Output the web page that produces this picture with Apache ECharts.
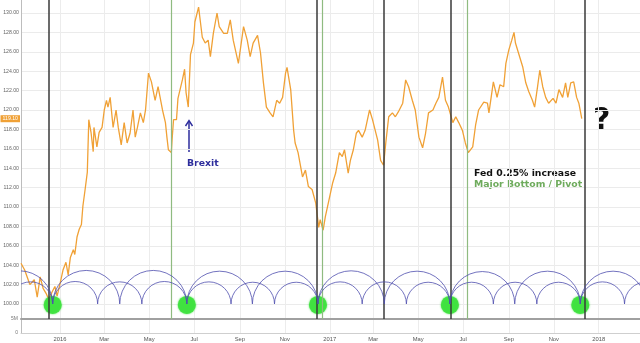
<!DOCTYPE html>
<html><head><meta charset="utf-8">
<script src="https://cdn.jsdelivr.net/npm/echarts@6/dist/echarts.min.js"></script>
<style>html,body{margin:0;padding:0;background:#fff}#c{width:640px;height:343px}</style>
</head><body><div id="c"></div>
<script>
const priceDates = ['2015-11-09','2015-11-14','2015-11-21','2015-11-27','2015-12-01','2015-12-05','2015-12-09','2015-12-13','2015-12-17','2015-12-21','2015-12-25','2015-12-28',
'2016-01-01','2016-01-05','2016-01-09','2016-01-12','2016-01-15','2016-01-19','2016-01-21','2016-01-24','2016-01-27','2016-01-30','2016-02-01','2016-02-04','2016-02-07','2016-02-09','2016-02-12','2016-02-15','2016-02-16','2016-02-20','2016-02-23','2016-02-27',
'2016-03-01','2016-03-04','2016-03-06','2016-03-09','2016-03-13','2016-03-17','2016-03-20','2016-03-24','2016-03-28','2016-04-01','2016-04-05','2016-04-09','2016-04-12','2016-04-15','2016-04-19','2016-04-23','2016-04-26','2016-04-30',
'2016-05-04','2016-05-06','2016-05-09','2016-05-13','2016-05-19','2016-05-23','2016-05-25','2016-05-27','2016-05-31','2016-06-01','2016-06-03','2016-06-07','2016-06-09','2016-06-15','2016-06-18','2016-06-20','2016-06-23','2016-06-26','2016-06-30',
'2016-07-02','2016-07-07','2016-07-12','2016-07-16','2016-07-20','2016-07-23','2016-07-27','2016-08-01','2016-08-04','2016-08-10','2016-08-15','2016-08-19','2016-08-23','2016-08-30','2016-09-06','2016-09-11','2016-09-15','2016-09-19','2016-09-25','2016-09-29',
'2016-10-03','2016-10-07','2016-10-12','2016-10-16','2016-10-21','2016-10-25','2016-10-29','2016-11-02','2016-11-04','2016-11-09','2016-11-13','2016-11-15','2016-11-19','2016-11-25','2016-11-29','2016-12-03','2016-12-08','2016-12-13','2016-12-17','2016-12-19','2016-12-23','2016-12-26','2016-12-30',
'2017-01-05','2017-01-09','2017-01-14','2017-01-18','2017-01-21','2017-01-26','2017-01-29','2017-02-02','2017-02-06','2017-02-09','2017-02-14','2017-02-18','2017-02-24','2017-02-28','2017-03-07','2017-03-11','2017-03-15','2017-03-18','2017-03-22','2017-03-27','2017-03-31',
'2017-04-04','2017-04-10','2017-04-14','2017-04-18','2017-04-23','2017-04-27','2017-05-02','2017-05-07','2017-05-11','2017-05-15','2017-05-21','2017-05-25','2017-05-29','2017-06-03','2017-06-07','2017-06-11','2017-06-17','2017-06-21','2017-06-25','2017-06-30',
'2017-07-04','2017-07-08','2017-07-14','2017-07-18','2017-07-22','2017-07-29','2017-08-03','2017-08-05','2017-08-11','2017-08-16','2017-08-20','2017-08-25','2017-08-28','2017-09-01','2017-09-05','2017-09-08','2017-09-10','2017-09-14','2017-09-20','2017-09-24','2017-09-28',
'2017-10-03','2017-10-06','2017-10-10','2017-10-13','2017-10-17','2017-10-21','2017-10-25','2017-10-31','2017-11-04','2017-11-08','2017-11-13','2017-11-17','2017-11-20','2017-11-24','2017-11-28','2017-12-02','2017-12-05','2017-12-09'];
const priceValues = [104.2,103.5,102.0,102.5,100.7,102.8,101.6,101.1,100.4,101.2,101.8,100.8,
102.1,103.5,104.3,103.0,104.8,105.6,105.1,106.9,107.7,108.2,110.1,111.8,113.6,119.0,117.7,115.7,118.2,116.2,117.7,118.2,
120.0,121.0,120.3,121.3,118.2,120.0,118.2,116.4,118.7,116.6,117.6,120.0,117.2,118.2,119.7,118.7,120.0,123.8,
122.9,123.1,121.0,122.4,120.0,118.7,117.2,115.9,115.6,116.9,119.0,119.0,121.2,123.1,124.2,121.8,120.3,125.7,126.9,
129.1,130.6,127.5,126.9,127.2,125.5,127.9,130.0,128.6,127.9,127.9,129.3,127.2,124.8,128.6,127.2,125.5,126.9,127.7,125.9,
122.8,120.3,119.7,119.3,121.0,120.7,121.3,123.8,124.4,122.1,117.9,116.6,115.6,113.1,113.8,112.1,111.8,110.4,107.9,108.7,107.6,109.0,110.4,
112.5,113.5,115.6,115.2,115.9,113.5,114.8,115.9,117.6,117.9,117.2,117.9,120.0,119.0,116.9,114.8,114.3,116.6,119.3,119.7,119.3,
119.8,120.7,123.1,122.4,121.0,120.0,117.2,116.1,117.6,119.7,120.0,120.7,121.3,123.4,121.0,120.3,118.7,119.3,118.7,117.9,
116.6,115.6,116.2,118.5,120.0,120.8,120.7,119.7,122.9,121.3,122.6,122.4,124.8,126.2,127.2,128.0,126.9,125.9,124.4,122.8,121.9,
121.0,120.3,122.4,124.1,122.4,121.3,120.7,121.2,120.7,122.1,121.3,122.8,121.3,122.8,122.9,121.3,120.7,119.1];

const fedHikeDates = ['2015-12-16','2016-12-14','2017-03-15','2017-06-14','2017-12-13'];
const majorBottomDates = ['2016-05-31','2016-12-22','2017-07-07'];
const cycleLowDates = ['2015-12-22','2016-06-21','2016-12-16','2017-06-13','2017-12-07'];
const halfCycleArcs = [['2015-09-23','2015-12-22'],['2015-12-22','2016-03-22'],['2016-03-22','2016-06-21'],['2016-06-21','2016-09-18'],['2016-09-18','2016-12-16'],
  ['2016-12-16','2017-03-16'],['2017-03-16','2017-06-13'],['2017-06-13','2017-09-09'],['2017-09-09','2017-12-07'],['2017-12-07','2018-03-06']];
const thirdCycleArcs = [['2015-08-24','2015-10-23'],['2015-10-23','2015-12-22'],['2015-12-22','2016-02-21'],['2016-02-21','2016-04-21'],['2016-04-21','2016-06-21'],
  ['2016-06-21','2016-08-20'],['2016-08-20','2016-10-18'],['2016-10-18','2016-12-16'],['2016-12-16','2017-02-14'],['2017-02-14','2017-04-15'],['2017-04-15','2017-06-13'],
  ['2017-06-13','2017-08-11'],['2017-08-11','2017-10-09'],['2017-10-09','2017-12-07'],['2017-12-07','2018-02-05'],['2018-02-05','2018-04-06']];
const arcBaseValue = 100;
const cycleLowMarkValue = 99.9;
const yTicks = [100,102,104,106,108,110,112,114,116,118,120,122,124,126,128,130];
const xTickDates = ['2016-01-01','2016-03-01','2016-05-01','2016-07-01','2016-09-01','2016-11-01','2017-01-01','2017-03-01','2017-05-01','2017-07-01','2017-09-01','2017-11-01','2018-01-01'];
const xTickLabels = ['2016','Mar','May','Jul','Sep','Nov','2017','Mar','May','Jul','Sep','Nov','2018'];
const xRange = ['2015-11-09','2018-02-26'];
const yRange = [98.45, 131.34];

function ts(d){const p=d.split('-').map(Number);return new Date(p[0],p[1]-1,p[2]).getTime();}
const xTickTs = xTickDates.map(ts);
const labelMap = {}; xTickTs.forEach((t,i)=>labelMap[t]=xTickLabels[i]);
const lastValue = priceValues[priceValues.length-1];

const chart = echarts.init(document.getElementById('c'));
const arcSeries = (arcs)=>({
  type:'custom', xAxisIndex:0, yAxisIndex:0, clip:true, z:5, silent:true,
  data: arcs.map(a=>[ts(a[0]),ts(a[1])]), encode:{x:[0,1]},
  renderItem(params, api){
    const s = api.coord([api.value(0), arcBaseValue]);
    const e = api.coord([api.value(1), arcBaseValue]);
    const r = (e[0]-s[0])/2;
    return {type:'arc', shape:{cx:(s[0]+e[0])/2, cy:s[1], r:r, startAngle:Math.PI, endAngle:Math.PI*2, clockwise:true},
      style:{stroke:'#4f4fae', lineWidth:0.8, fill:null}};
  }
});

const vLines = fedHikeDates.map(d=>({xAxis:ts(d), lineStyle:{color:'#3a3a3a', width:1.5, type:'solid'}}))
  .concat(majorBottomDates.map(d=>({xAxis:ts(d), lineStyle:{color:'#8fbb80', width:1.2, type:'solid'}})));

const txtFont = 'DejaVu Sans';
const xCommon = {type:'value', min:ts(xRange[0]), max:ts(xRange[1]), scale:true};
chart.setOption({
  animation:false,
  backgroundColor:'#fff',
  grid:[{left:21,right:0,top:0,height:319},{left:21,right:0,top:319,height:14}],
  xAxis:[
    Object.assign({gridIndex:0,
     axisLine:{show:true, onZero:false, lineStyle:{color:'#a0a0a0', width:2}}, axisTick:{show:false, customValues:xTickTs},
     axisLabel:{show:false, customValues:xTickTs}, splitLine:{show:true, lineStyle:{color:'#ececec', width:1}}}, xCommon),
    Object.assign({gridIndex:1,
     axisLine:{show:true, onZero:false, lineStyle:{color:'#cfcfcf', width:1}}, axisTick:{show:false, customValues:xTickTs},
     axisLabel:{customValues:xTickTs, formatter:v=>labelMap[v]||'', fontSize:5.8, color:'#555', margin:3, fontFamily:'Liberation Sans'},
     splitLine:{show:true, lineStyle:{color:'#ececec', width:1}}}, xCommon)
  ],
  yAxis:[
    {type:'value', gridIndex:0, min:yRange[0], max:yRange[1],
     axisLine:{show:true, lineStyle:{color:'#bdbdbd'}}, axisTick:{show:false, customValues:yTicks},
     axisLabel:{customValues:yTicks, formatter:v=>v.toFixed(2), fontSize:5.2, color:'#666', margin:2, fontFamily:'Liberation Sans'},
     splitLine:{show:true, lineStyle:{color:'#ebebeb'}}},
    {type:'value', gridIndex:1, min:0, max:5,
     axisLine:{show:true, lineStyle:{color:'#bdbdbd'}}, axisTick:{show:false, customValues:[0,5]},
     axisLabel:{customValues:[0,5], formatter:v=>v?'5M':'0', fontSize:5, color:'#777', margin:3, fontFamily:'Liberation Sans'},
     splitLine:{show:false}}
  ],
  series:[
    {type:'line', name:'markers', xAxisIndex:0, yAxisIndex:0, data:[], z:1,
     markLine:{silent:true, symbol:['none','none'], label:{show:false}, data:vLines, animation:false}},
    {type:'line', name:'price', xAxisIndex:0, yAxisIndex:0, z:3, showSymbol:false,
     data:priceDates.map((d,i)=>[ts(d), priceValues[i]]),
     lineStyle:{color:'#f0a136', width:1.3}, itemStyle:{color:'#f0a136'}},
    {type:'scatter', xAxisIndex:0, yAxisIndex:0, z:4, symbolSize:18,
     data:cycleLowDates.map(d=>[ts(d), cycleLowMarkValue]),
     itemStyle:{color:'#3fe23f', opacity:0.92, shadowBlur:2, shadowColor:'#3fe23f'}},
    arcSeries(halfCycleArcs), arcSeries(thirdCycleArcs)
  ],
  graphic:[
    {type:'text', left:187, top:159, style:{text:'Brexit', font:'bold 9.3px "'+txtFont+'"', fill:'#2d2d9c'}},
    {type:'polyline', shape:{points:[[189,152],[189,121]]}, style:{stroke:'#2d2d9c', lineWidth:1.5}},
    {type:'polyline', shape:{points:[[185.5,126],[189,120.5],[192.5,126]]}, style:{stroke:'#2d2d9c', lineWidth:1.4, fill:null}},
    {type:'text', left:474, top:169, style:{text:'Fed 0.25% increase', font:'bold 9.3px "'+txtFont+'"', fill:'#111'}},
    {type:'text', left:474, top:180, style:{text:'Major Bottom / Pivot', font:'bold 9.3px "'+txtFont+'"', fill:'#6eab5c'}},
    {type:'text', left:593, top:106, style:{text:'?', font:'bold 30px "'+txtFont+'"', fill:'#111'}}
  ]
});
// current-price tag on the y axis, positioned through the axis scale
const py = chart.convertToPixel({yAxisIndex:0}, lastValue);
chart.setOption({graphic:[{id:'lastTag', type:'text', x:20, y:py, z:100,
  style:{text:lastValue.toFixed(2), font:'5.2px "Liberation Sans"', fill:'#fff', backgroundColor:'#f0a136',
    padding:[1,2], align:'right', verticalAlign:'middle'}}]});
</script></body></html>
